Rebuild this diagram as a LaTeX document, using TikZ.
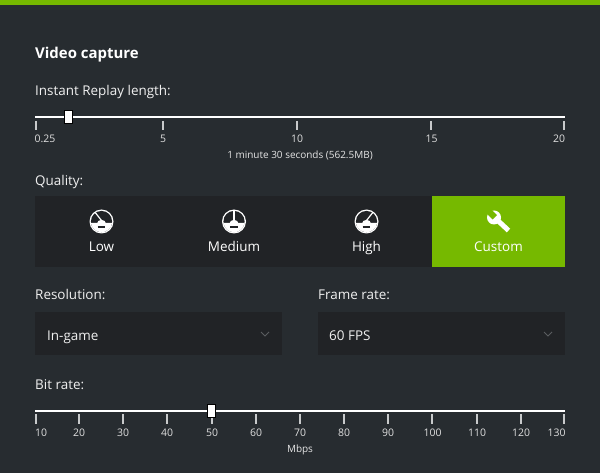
\documentclass[tikz,border=0pt]{standalone}
\usepackage{fontspec}
\setmainfont{Open Sans}
\definecolor{pagebg}{HTML}{272C30}
\definecolor{panelbg}{HTML}{212326}
\definecolor{nvgreen}{HTML}{76B900}
\definecolor{chevgrey}{HTML}{5A5D60}
\definecolor{tickgrey}{HTML}{C8CACB}
\tikzset{
    heading/.style={anchor=base west, inner sep=0pt, text=white, font=\fontsize{15}{18}\selectfont\bfseries},
    fieldlabel/.style={anchor=base west, inner sep=0pt, text=white!94!black, font=\fontsize{13.5}{16}\selectfont},
    ticklabel/.style={anchor=base, inner sep=0pt, text=white!88!black, font=\fontsize{10.5}{12}\selectfont},
    smalllabel/.style={anchor=base, inner sep=0pt, text=white!90!black, font=\fontsize{10}{12}\selectfont},
    modelabel/.style={anchor=base, inner sep=0pt, text=white, font=\fontsize{13.5}{15}\selectfont},
    thumb/.style={draw=black, line width=0.6pt, fill=white, minimum width=8.5bp, minimum height=13bp, inner sep=0pt},
    panel/.style={fill=panelbg, draw=none, inner sep=0pt, anchor=north west},
    pics/gauge/.style={code={
        \fill[white] (0,0) circle (12);
        \fill[panelbg] (0,0) circle (10.6);
        \fill[white] (-10.6,1.5) -- (10.6,1.5) arc (8:172:10.65) -- cycle;
        \fill[white] (-4.4,2) arc (180:360:4.4 and 3.6) -- cycle;
        \draw[white, line width=1.2pt] (0,-1) -- (-#1:11);
        \draw[panelbg, line width=1.2pt] (-3.8,5.5) -- (3.8,5.5);
    }}
}
\begin{document}
\begin{tikzpicture}[x=1bp, y=-1bp]
\useasboundingbox (0,0) rectangle (600,473);
\fill[pagebg] (0,0) rectangle (600,473);
\fill[nvgreen] (0,0) rectangle (600,5);

\node[heading] (title) at (35,59) {Video capture};

% Replay slider
\node[fieldlabel] (replay) at (35,95.5) {Instant Replay length:};
\coordinate (replay-start) at (35,117);
\coordinate (replay-end) at (565,117);
\draw[white!60!black, line width=2.8pt] (replay-start) -- (replay-end);
\draw[white, line width=1.3pt] (replay-start) -- (replay-end);
\foreach \x/\lab/\lx in {36/0.25/45, 163/5/163, 297/10/297, 431/15/431.5, 564/20/559}
{
    \draw[tickgrey, line width=1.2pt] (\x,121) -- (\x,130);
    \node[ticklabel] (replay-\lab) at (\lx,142.5) {\lab};
}
\node[thumb] (replay-thumb) at (68.5,117) {};
\node[smalllabel] (replay-info) at (300,159) {1 minute 30 seconds (562.5MB)};

% Quality buttons
\node[fieldlabel] (quality) at (35,185.5) {Quality:};
\node[panel, minimum width=530bp, minimum height=71bp] (quality-box) at (35,196) {};
\node[panel, fill=nvgreen, minimum width=133bp, minimum height=71bp] (custom-box) at (432,196) {};
\path (101.5,221.5) pic {gauge=125};
\path (234,221.5) pic {gauge=90};
\path (366.5,221.5) pic {gauge=55};
\foreach \x/\lab in {101.5/Low, 234/Medium, 366.5/High, 498.5/Custom}
{
    \node[modelabel] (mode-\lab) at (\x,252) {\lab};
}

% Wrench
\draw[white, line width=5pt] (494,217) -- (508.5,230.5);
\fill[white] (494,217.5) circle (7);
\fill[nvgreen] (489.5,208) -- (497,215) -- (492.5,219.5) -- (485,212) -- cycle;

% Drop-downs
\node[fieldlabel] (resolution) at (35,299.5) {Resolution:};
\node[fieldlabel] (framerate) at (318,299.5) {Frame rate:};
\node[panel, minimum width=247bp, minimum height=43bp] (resolution-box) at (35,312) {};
\node[panel, minimum width=247bp, minimum height=43bp] (framerate-box) at (318,312) {};
\node[fieldlabel] (resolution-value) at (47,340) {In-game};
\node[fieldlabel] (framerate-value) at (329,340) {60 FPS};
\foreach \x in {265,548}
{
    \draw[chevgrey, line width=1pt] (\x-4,332) -- (\x,336) -- (\x+4,332);
}

% Bit rate slider
\node[fieldlabel] (bitrate) at (35,389) {Bit rate:};
\coordinate (bitrate-start) at (35,411);
\coordinate (bitrate-end) at (565,411);
\draw[white, line width=2pt] (bitrate-start) -- (bitrate-end);
\foreach \x/\lab/\lx in {36/10/41, 79/20/79, 123/30/123, 167/40/167, 212/50/212, 256/60/256, 300/70/300,
    344/80/344, 388/90/388, 432/100/432.5, 477/110/477, 521/120/521, 564/130/556.5}
{
    \draw[tickgrey, line width=1.2pt] (\x,414) -- (\x,424);
    \node[ticklabel] (bitrate-\lab) at (\lx,436.5) {\lab};
}
\node[thumb] (bitrate-thumb) at (211.5,411) {};
\node[smalllabel] (bitrate-unit) at (300,452) {Mbps};

\end{tikzpicture}
\end{document}
